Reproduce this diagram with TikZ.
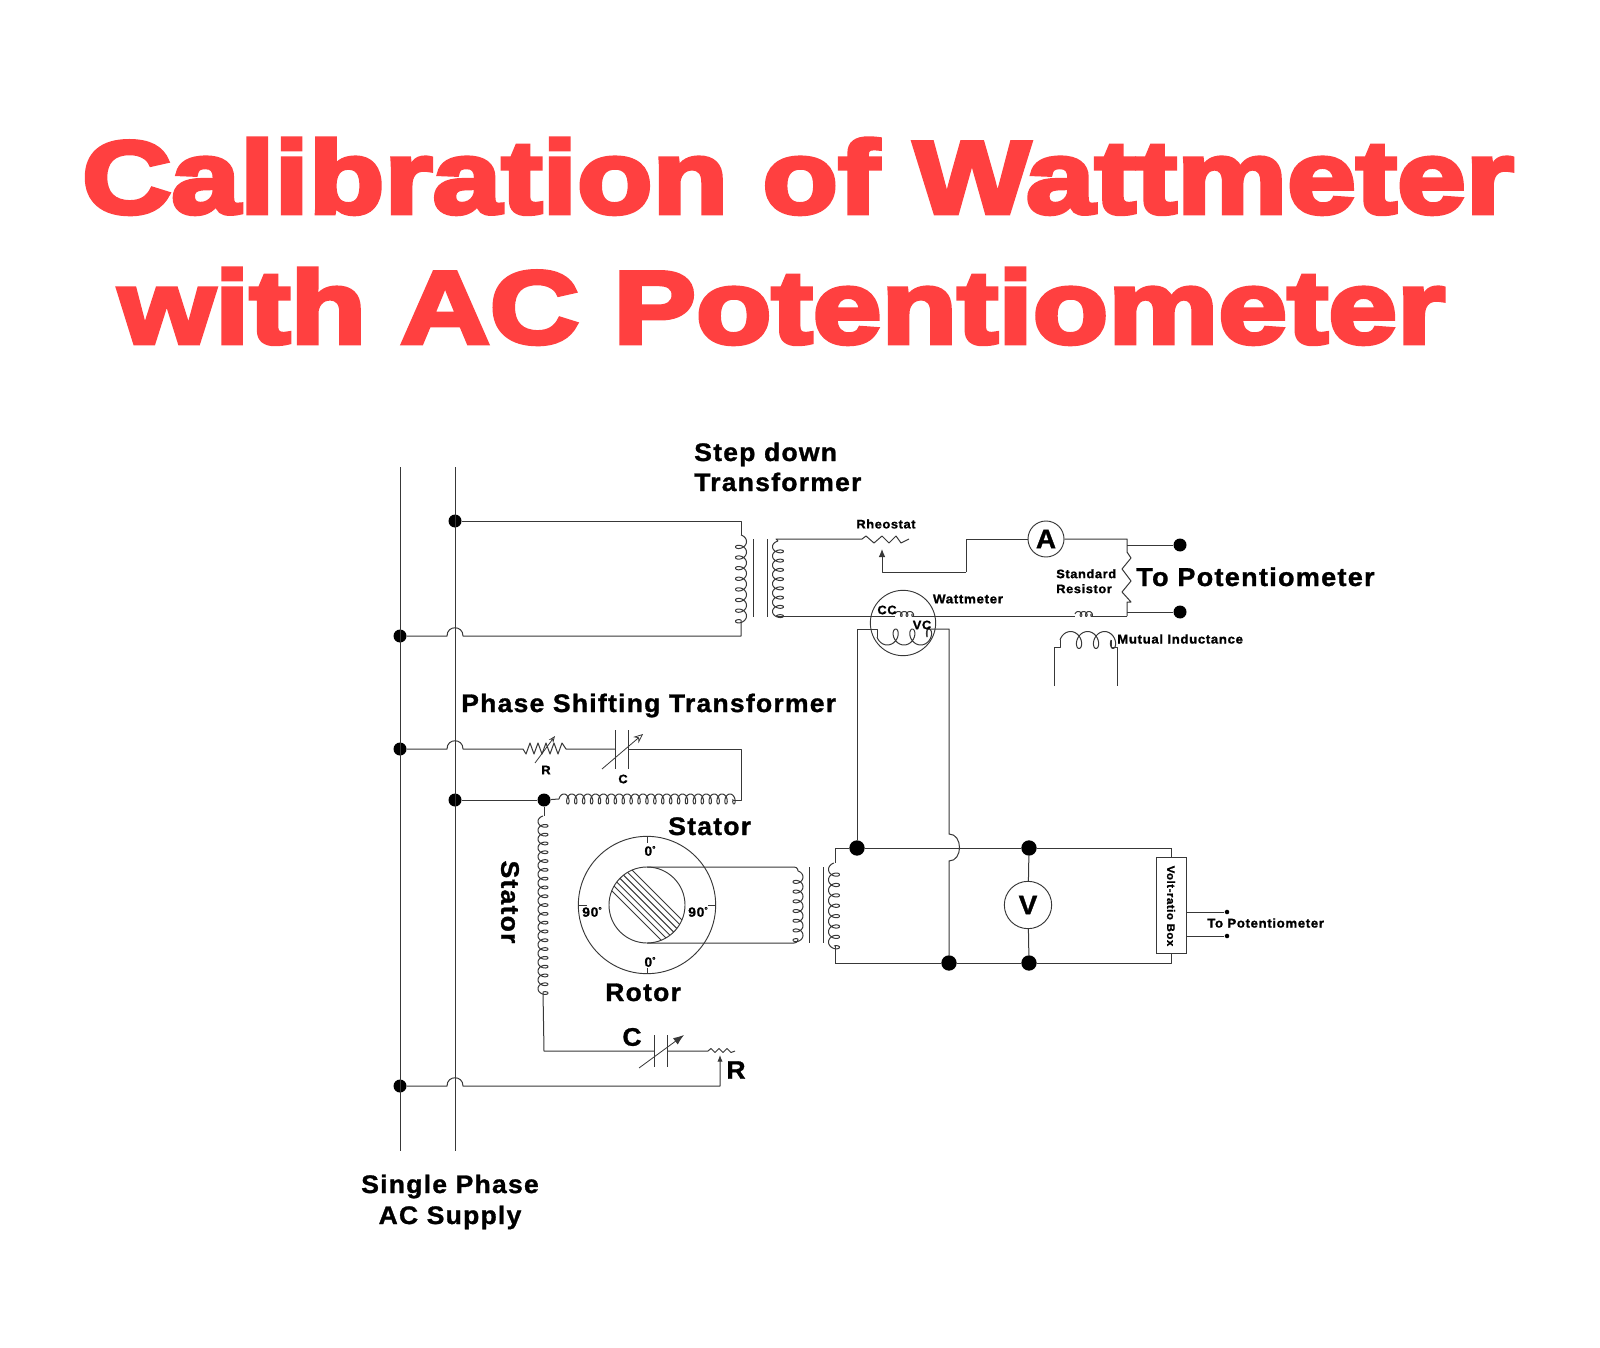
\documentclass[tikz,border=0pt]{standalone}
\usepackage{fontspec}
\setmainfont{Liberation Sans}
\newfontfamily\titlef[BoldFeatures={FakeBold=4.5,FakeStretch=1.205}]{Liberation Sans}
\newfontfamily\lblf[BoldFeatures={LetterSpace=5,FakeBold=1.2,FakeStretch=1.045}]{Liberation Sans}
\usetikzlibrary{arrows.meta}
\definecolor{titlered}{RGB}{255,64,64}
\definecolor{ink}{gray}{0.22}
\newcommand{\coilH}[6]{% x0,y,len,n,amp,side
  \draw[wire] plot[domain=90:{90+360*#4},samples={24*#4+1},variable=\t]
   ({#1+#3*((\t-90)/(360*#4))-0.37*#3/#4*(sin(\t)-1)},{#2+#6*#5/2*cos(\t)});}
\newcommand{\coilV}[6]{% x,y0,len,n,amp,side
  \draw[wire] plot[domain=90:{90+360*#4},samples={24*#4+1},variable=\t]
   ({#1+#6*#5/2*cos(\t)},{#2+#3*((\t-90)/(360*#4))-0.37*#3/#4*(sin(\t)-1)});}
\tikzset{
 x=0.75pt,y=-0.75pt,
 wire/.style={draw=ink,line width=0.75pt,line join=round},
 dot/.style={circle,fill=black,inner sep=0pt,minimum size=9.75pt},
 bigdot/.style={circle,fill=black,inner sep=0pt,minimum size=11.5pt},
 tinydot/.style={circle,fill=black,inner sep=0pt,minimum size=3.4pt},
 meter/.style={circle,draw=ink,line width=0.7pt,fill=white,inner sep=0pt,minimum size=27pt,font=\lblf\bfseries\fontsize{20}{20}\selectfont},
 big/.style={inner sep=0pt,font=\lblf\bfseries\fontsize{19}{22}\selectfont,text=black},
 small/.style={inner sep=0pt,font=\lblf\bfseries\fontsize{9.2}{11}\selectfont,text=black,align=left},
 titletext/.style={inner sep=0pt,text=titlered,font=\titlef\bfseries\fontsize{77}{77}\selectfont},
}
\begin{document}
\begin{tikzpicture}
\useasboundingbox[fill=white] (0,0) rectangle (1600,1348);
% Title
\node[titletext,anchor=base] (t1) at (798,213) {Calibration of Wattmeter};
\node[titletext,anchor=base] (t2) at (782,343) {with AC Potentiometer};
% coordinates
\coordinate (busAt) at (400,467);
\coordinate (busAb) at (400,1151);
\coordinate (busBt) at (455,467);
\coordinate (busBb) at (455,1151);
% dots
\node[dot] (d1) at (455,521) {};
\node[dot] (d2) at (400,636) {};
\node[dot] (d3) at (400,749) {};
\node[dot] (d4) at (455,800) {};
\node[dot] (d5) at (544,800) {};
\node[dot] (d6) at (400,1086) {};
\node[bigdot] (d7) at (857,848) {};
\node[bigdot] (d8) at (1029,848) {};
\node[bigdot] (d9) at (949,963) {};
\node[bigdot] (d10) at (1029,963) {};
\node[dot] (p1) at (1180,545) {};
\node[dot] (p2) at (1180,612) {};
\node[tinydot] (q1) at (1227,912) {};
\node[tinydot] (q2) at (1227,936) {};
% meters
\node[meter] (A) at (1046,539) {A};
\node[meter,minimum size=35.5pt] (V) at (1028,905) {V};
\node[circle,draw=ink,line width=0.7pt,inner sep=0pt,minimum size=49pt] (W) at (903,623) {};
% buses
\draw[wire] (busAt) -- (busAb);
\draw[wire] (busBt) -- (busBb);
% step-down primary
\coordinate (pt) at (741,521);
\coordinate (pb) at (741,636);
\draw[wire] (d1) -- (pt) -- (741,535);
\coilV{741}{535}{85}{8}{11}{-1}
\draw[wire] (741,620) -- (pb) -- (463,636) .. controls +(0,-11) and +(0,-11) .. (447,636) -- (d2);
\draw[wire] (753,539) -- (753,617);
\draw[wire] (767,539) -- (767,617);
% secondary
\coilV{778}{541}{74}{8}{11}{1}
\coordinate (st) at (776,539);
\coordinate (sb) at (776,616);
\coordinate (rhL) at (862,539);
\coordinate (rhA) at (882,572);
\coordinate (jog) at (966,572);
\coordinate (jog2) at (966,539);
\coordinate (n1) at (1127,539);
\coordinate (n2) at (1127,616);
\draw[wire] (778,541) -- (st) -- (rhL) -- ++(4,-3) -- ++(8,7) -- ++(8,-7) -- ++(7,7) -- ++(7,-7) -- ++(5,7) -- ++(8,-4);
\draw[wire,-{Latex[length=6pt,width=5pt]}] (jog) -- (rhA) -- (882,549);
\draw[wire] (jog) -- (jog2) -- (A);
\draw[wire] (A) -- (n1) -- (1127,552) -- ++(4,6) -- ++(-9,11) -- ++(9,12) -- ++(-9,11) -- ++(9,10) -- ++(-4,0) -- (n2);
\draw[wire] (1127,545) -- (p1);
\draw[wire] (1127,612) -- (p2);
\draw[wire] (778,615) -- (sb);
\draw[wire] (776,616) -- (895,616);
\coilH{895}{614}{17}{3}{5}{1}
\draw[wire] (912,616) -- (1075,616);
\coilH{1075}{614}{16}{3}{5}{1}
\draw[wire] (1091,616) -- (n2);
% mutual inductance
\draw[wire] (1054,686) -- (1054,647) -- (1060,647) -- (1060,640);
\coilH{1060}{640}{51}{3}{17}{1}
\draw[wire] (1111,640) -- (1111,647) -- (1117,647) -- (1117,686);
% wattmeter VC
\coordinate (vcL) at (857,629);
\coordinate (vcR) at (949,629);
\draw[wire] (d7) -- (vcL) -- (877,629) -- (877,637);
\coilH{877}{637}{50}{3}{16}{-1}
\draw[wire] (927,637) -- (927,629) -- (vcR) -- (949,834) .. controls +(14,0) and +(14,0) .. (949,861) -- (d9);
% volt line
\coordinate (rt) at (835,848);
\coordinate (rb) at (835,963);
\coordinate (bt) at (1171,848);
\coordinate (bb) at (1171,963);
\node[draw=ink,line width=0.7pt,fill=white,minimum width=23pt,minimum height=72.5pt,inner sep=0pt] (box) at (1171.5,905.5) {};
\node[small,rotate=-90,font=\lblf\bfseries\fontsize{8.2}{9}\selectfont] (boxl) at (1171,906) {Volt-ratio Box};
\draw[wire] (rt) -- (d7) -- (d8) -- (bt);
\draw[wire] (bt) -- (bt|-box.north);
\draw[wire] (rb) -- (d9) -- (d10) -- (bb) -- (bb|-box.south);
\draw[wire] (d8) -- (V) -- (d10);
\draw[wire] (box.east|-q1) -- (q1);
\draw[wire] (box.east|-q2) -- (q2);
% rotor transformer
\draw[wire] (rt) -- (835,863);
\coilV{834}{863}{83}{8}{11}{1}
\draw[wire] (835,946) -- (rb);
\draw[wire] (809,867) -- (809,943);
\draw[wire] (823,867) -- (823,943);
\coilV{798}{871}{68}{7}{10}{-1}
% ring
\node[circle,draw=ink,line width=0.7pt,inner sep=0pt,minimum size=103pt] (ring) at (647,905) {};
\node[circle,draw=ink,line width=0.7pt,inner sep=0pt,minimum size=57pt] (rotor) at (647,905) {};
\draw[wire] (647,867) -- (794,867) .. controls (798,867) and (798,871) .. (798,871);
\draw[wire] (647,943) -- (794,943) .. controls (798,943) and (798,939) .. (798,939);
\begin{scope}
\clip (647,905) circle [radius=38];
\foreach \k in {20,13.2,6.4,-0.4,-7.2,-14,-21}
  \draw[line width=0.7pt,draw=ink] ({647+\k/2-60},{905-\k/2-60}) -- ({647+\k/2+60},{905-\k/2+60});
\end{scope}
\draw[wire] (647,837) -- (647,843);
\draw[wire] (647,968) -- (647,974);
\draw[wire] (578,905) -- (587,905);
\draw[wire] (708,905) -- (716,905);
\tikzset{deg/.style={small,font=\lblf\bfseries\fontsize{10}{11}\selectfont}}
\node[deg] (a0) at (650,851) {0\raisebox{3pt}{\fontsize{6}{6}\selectfont\textdegree}};
\node[deg] (a1) at (650,962) {0\raisebox{3pt}{\fontsize{6}{6}\selectfont\textdegree}};
\node[deg] (a2) at (592,912) {90\raisebox{3pt}{\fontsize{6}{6}\selectfont\textdegree}};
\node[deg] (a3) at (698,912) {90\raisebox{3pt}{\fontsize{6}{6}\selectfont\textdegree}};
% phase-shift branch
\coordinate (rL) at (523,749);
\coordinate (cL) at (615,749);
\coordinate (cR) at (628,749);
\coordinate (ct) at (741,749);
\coordinate (cb) at (741,800);
\draw[wire] (d3) -- (447,749) .. controls +(0,-11) and +(0,-11) .. (463,749) -- (rL)
  -- ++(3,5) -- ++(4,-11) -- ++(4,11) -- ++(4,-11) -- ++(4,11) -- ++(4,-11) -- ++(4,11) -- ++(4,-11) -- ++(4,11) -- ++(4,-11) -- ++(4,6) -- (cL);
\draw[wire] (615,730) -- (615,769);
\draw[wire] (628,730) -- (628,769);
\draw[wire] (cR) -- (ct) -- (cb) -- (733,800);
\coilH{559}{799}{174}{22}{10}{1}
\draw[wire] (d4) -- (d5);
\draw[wire] (d5) -- (559,799);
\draw[line width=0.6pt,draw=ink,-{Stealth[length=5pt,width=4pt,open]}] (535,763) -- (555,736);
\draw[line width=0.6pt,draw=ink,-{Stealth[length=7pt,width=6pt,open]}] (602,769) -- (643,734);
% lower stator
\draw[wire] (d5) -- (544,816);
\coilV{543}{816}{176}{20}{10}{1}
\coordinate (ll) at (544,1051);
\coordinate (cc1) at (654,1051);
\coordinate (cc2) at (667,1051);
\draw[wire] (543,992) -- (ll) -- (cc1);
\draw[wire] (654,1035) -- (654,1067);
\draw[wire] (667,1035) -- (667,1067);
\draw[wire] (cc2) -- (708,1051) -- ++(3,-2.5) -- ++(4,4) -- ++(4,-4) -- ++(4,4) -- ++(4,-4) -- ++(4,4) -- ++(4,-1.5);
\draw[line width=0.6pt,draw=ink,-{Latex[length=8pt,width=6pt]}] (639,1068) -- (684,1035);
\coordinate (rr) at (720,1086);
\draw[wire,-{Latex[length=5pt,width=4pt]}] (d6) -- (447,1086) .. controls +(0,-11) and +(0,-11) .. (463,1086) -- (rr) -- (720,1055);
% labels
\node[big,anchor=base west] (l1) at (694,461) {Step down};
\node[big,anchor=base west] (l2) at (694,491) {Transformer};
\node[small,anchor=center] (l3) at (886,524) {Rheostat};
\node[small,anchor=center,font=\lblf\bfseries\fontsize{9.6}{11}\selectfont] (l4) at (968,599) {Wattmeter};
\node[small,anchor=center] (l5) at (887,610) {CC};
\node[small,anchor=center] (l6) at (922,625) {VC};
\node[small,anchor=north west,font=\lblf\bfseries\fontsize{9.2}{11.2}\selectfont] (l7) at (1056,569) {Standard\\Resistor};
\node[big,anchor=base west,font=\lblf\bfseries\fontsize{19.4}{22}\selectfont] (l8) at (1136,586) {To Potentiometer};
\node[small,anchor=west,font=\lblf\bfseries\fontsize{9.5}{11}\selectfont] (l9) at (1117,639) {Mutual Inductance};
\node[big,anchor=base west] (l10) at (461,712) {Phase Shifting Transformer};
\node[small] (l11) at (546,770) {R};
\node[small] (l12) at (623,779) {C};
\node[big,anchor=base west] (l13) at (668,835) {Stator};
\node[big,anchor=center,rotate=-90] (l14) at (510,902) {Stator};
\node[big,anchor=base west] (l15) at (605,1001) {Rotor};
\node[big,anchor=center] (l16) at (632,1037) {C};
\node[big,anchor=center] (l17) at (736,1070) {R};
\node[big,anchor=base] (l18) at (450,1193) {Single Phase};
\node[big,anchor=base] (l19) at (450,1224) {AC Supply};
\node[small,anchor=west,font=\lblf\bfseries\fontsize{9.5}{11}\selectfont] (l20) at (1207,923) {To Potentiometer};
\end{tikzpicture}
\end{document}
